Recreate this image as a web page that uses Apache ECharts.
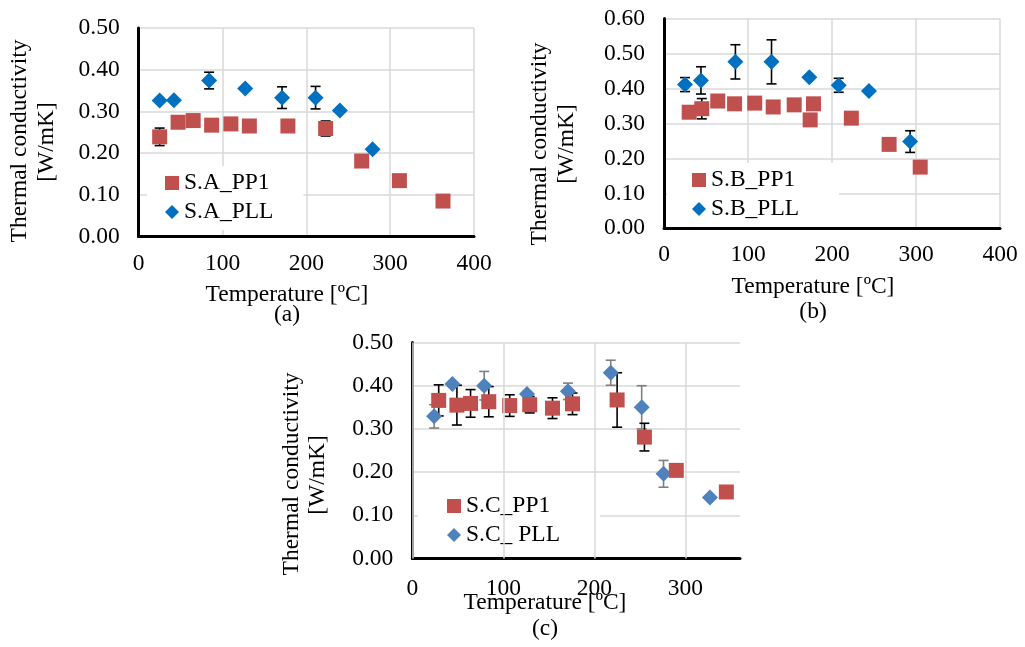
<!DOCTYPE html>
<html><head><meta charset="utf-8">
<script src="https://cdn.jsdelivr.net/npm/echarts@6/dist/echarts.min.js"></script>
<style>html,body{margin:0;padding:0;background:#fff}#c{width:1025px;height:647px}</style>
</head><body><div id="c"></div>
<script>
const FONT = "'Liberation Serif', 'Times New Roman', serif";
const FS = 23.5;

// ---------- Panel (a) ----------
const aPP1Temp = [25, 47, 65, 87, 110, 132, 178, 223, 266, 311, 363];
const aPP1Val  = [0.239, 0.274, 0.278, 0.267, 0.270, 0.265, 0.265, 0.259, 0.181, 0.134, 0.085];
const aPP1Err  = [0.021, 0, 0, 0, 0, 0, 0, 0.018, 0, 0, 0];
const aPLLTemp = [25, 42, 84, 127, 171, 211, 240, 279];
const aPLLVal  = [0.326, 0.327, 0.374, 0.355, 0.333, 0.333, 0.302, 0.209];
const aPLLErr  = [0, 0, 0.020, 0, 0.026, 0.027, 0, 0];

// ---------- Panel (b) ----------
const bPP1Temp = [30, 45, 64, 84, 108, 130, 155, 174, 178, 223, 268, 305];
const bPP1Val  = [0.332, 0.342, 0.364, 0.356, 0.358, 0.347, 0.353, 0.310, 0.356, 0.315, 0.240, 0.175];
const bPP1Err  = [0, 0.029, 0, 0, 0, 0, 0, 0, 0, 0, 0, 0];
const bPLLTemp = [25, 44, 85, 128, 173, 208, 244, 293];
const bPLLVal  = [0.411, 0.423, 0.476, 0.476, 0.432, 0.409, 0.393, 0.248];
const bPLLErr  = [0.020, 0.039, 0.049, 0.063, 0, 0.020, 0, 0.031];

// ---------- Panel (c) ----------
const cPP1Temp = [29, 49, 64, 84, 107, 129, 154, 176, 225, 255, 290, 345];
const cPP1Val  = [0.366, 0.355, 0.359, 0.363, 0.354, 0.356, 0.348, 0.358, 0.367, 0.281, 0.204, 0.154];
const cPP1Err  = [0.036, 0.046, 0.032, 0.035, 0.025, 0.019, 0.024, 0.025, 0.063, 0.032, 0, 0];
const cPLLTemp = [24, 44, 79, 126, 171, 218, 252, 276, 327];
const cPLLVal  = [0.329, 0.404, 0.400, 0.381, 0.387, 0.430, 0.350, 0.196, 0.141];
const cPLLErr  = [0.027, 0, 0.033, 0, 0.019, 0.029, 0.050, 0.031, 0];
const cGridX   = [0, 100, 200, 300];

// ---------- Labels ----------
const legendA = ['S.A_PP1', 'S.A_PLL'];
const legendB = ['S.B_PP1', 'S.B_PLL'];
const legendC = ['S.C_PP1', 'S.C_ PLL'];
const yTitle1 = 'Thermal conductivity';
const yTitle2 = '[W/mK]';
const xTitle = 'Temperature [ºC]';
const captions = ['(a)', '(b)', '(c)'];

const RED = '#C0504D', BLUE = '#0070C0', BLUE_C = '#4F81BD';
const GRID_COL = '#D9D9D9';

function pts(t, v) { return t.map((x, i) => [x, v[i]]); }

function errSeries(idx, temps, vals, errs, color, z, extra) {
  const data = [];
  temps.forEach((t, i) => { if (errs[i] > 0) data.push([t, vals[i] - errs[i], vals[i] + errs[i]]); });
  return Object.assign({
    type: 'custom', xAxisIndex: idx, yAxisIndex: idx, data, z: z, silent: true,
    encode: { x: 0, y: [1, 2] },
    renderItem(params, api) {
      const lo = api.coord([api.value(0), api.value(1)]);
      const hi = api.coord([api.value(0), api.value(2)]);
      const w = 5;
      const style = { stroke: color, lineWidth: 1.6, fill: null };
      return { type: 'group', children: [
        { type: 'line', shape: { x1: lo[0], y1: lo[1], x2: hi[0], y2: hi[1] }, style },
        { type: 'line', shape: { x1: lo[0] - w, y1: lo[1], x2: lo[0] + w, y2: lo[1] }, style },
        { type: 'line', shape: { x1: hi[0] - w, y1: hi[1], x2: hi[0] + w, y2: hi[1] }, style }
      ]};
    }
  }, extra || {});
}

function scatter(idx, name, t, v, symbol, size, color, z) {
  return { type: 'scatter', name, xAxisIndex: idx, yAxisIndex: idx, data: pts(t, v),
    symbol, symbolSize: size, itemStyle: { color, opacity: 1 }, z: z, emphasis: { disabled: true } };
}

function xAxis(idx, max, margin, split) {
  return { gridIndex: idx, type: 'value', min: 0, max: max, interval: 100,
    axisLine: { show: true, onZero: false, lineStyle: { color: '#000', width: 3 } },
    axisTick: { show: false },
    axisLabel: { color: '#000', fontFamily: FONT, fontSize: FS, margin: margin,
      formatter: v => (v % 100 === 0 ? String(v) : '') },
    splitLine: { show: split, lineStyle: { color: GRID_COL, width: 1.5 } } };
}
function yAxis(idx, max) {
  return { gridIndex: idx, type: 'value', min: 0, max: max, interval: 0.1,
    axisLine: { show: true, onZero: false, lineStyle: { color: '#000', width: 3 } },
    axisTick: { show: false },
    axisLabel: { color: '#000', fontFamily: FONT, fontSize: FS, margin: 19,
      formatter: v => v.toFixed(2) },
    splitLine: { show: true, lineStyle: { color: GRID_COL, width: 1.5 } } };
}
function legend(data, left, top, pad) {
  return { data: data, orient: 'vertical', left: left, top: top, padding: pad,
    backgroundColor: '#fff', itemWidth: 14, itemHeight: 14, itemGap: 5, selectedMode: false,
    textStyle: { color: '#000', fontFamily: FONT, fontSize: FS } };
}
function txt(x, y, s, rot) {
  return { type: 'text', x: x, y: y, rotation: rot ? Math.PI / 2 : 0,
    style: { text: s, fill: '#000', font: FS + 'px ' + FONT, textAlign: 'center', textVerticalAlign: 'middle' } };
}

const cGridMarkLine = {
  markLine: {
    silent: true, symbol: 'none', label: { show: false },
    lineStyle: { color: GRID_COL, width: 1.5, type: 'solid' },
    data: cGridX.map(x => ({ xAxis: x }))
  }
};

const chart = echarts.init(document.getElementById('c'), null, { renderer: 'canvas' });
chart.setOption({
  animation: false,
  backgroundColor: '#fff',
  grid: [
    { left: 138.7, top: 28, width: 335.3, height: 208.5, containLabel: false, outerBoundsMode: 'none' },
    { left: 664, top: 18.5, width: 336, height: 209.8, containLabel: false, outerBoundsMode: 'none' },
    { left: 412.3, top: 342.5, width: 327.7, height: 216, containLabel: false, outerBoundsMode: 'none' }
  ],
  xAxis: [xAxis(0, 400, 15, true), xAxis(1, 400, 15, true), xAxis(2, 360, 18, false)],
  yAxis: [yAxis(0, 0.5), yAxis(1, 0.6), yAxis(2, 0.5)],
  legend: [
    legend(legendA, 147, 166, [5, 30, 6, 18]),
    legend(legendB, 667, 163, [5, 40, 6, 25]),
    legend(legendC, 418, 489, [5, 40, 6, 29])
  ],
  series: [
    errSeries(0, aPP1Temp, aPP1Val, aPP1Err, '#000', 2),
    errSeries(0, aPLLTemp, aPLLVal, aPLLErr, '#000', 2),
    scatter(0, legendA[0], aPP1Temp, aPP1Val, 'rect', 15, RED, 3),
    scatter(0, legendA[1], aPLLTemp, aPLLVal, 'diamond', 16, BLUE, 3),

    errSeries(1, bPP1Temp, bPP1Val, bPP1Err, '#000', 2),
    errSeries(1, bPLLTemp, bPLLVal, bPLLErr, '#000', 2),
    scatter(1, legendB[0], bPP1Temp, bPP1Val, 'rect', 15, RED, 3),
    scatter(1, legendB[1], bPLLTemp, bPLLVal, 'diamond', 16, BLUE, 3),

    errSeries(2, cPLLTemp, cPLLVal, cPLLErr, '#7F7F7F', 2, cGridMarkLine),
    errSeries(2, cPP1Temp, cPP1Val, cPP1Err, '#000', 2),
    scatter(2, legendC[1], cPLLTemp, cPLLVal, 'diamond', 16, BLUE_C, 3),
    scatter(2, legendC[0], cPP1Temp, cPP1Val, 'rect', 15, RED, 4)
  ],
  graphic: [
    txt(20, 141, yTitle1, true), txt(47, 142, yTitle2, true),
    txt(287, 295, xTitle), txt(287, 315, captions[0]),
    txt(540, 144, yTitle1, true), txt(567, 144, yTitle2, true),
    txt(813, 287, xTitle), txt(813, 312, captions[1]),
    txt(292, 474, yTitle1, true), txt(318, 475, yTitle2, true),
    txt(545, 603, xTitle), txt(545, 629, captions[2])
  ]
});
</script>
</body></html>
